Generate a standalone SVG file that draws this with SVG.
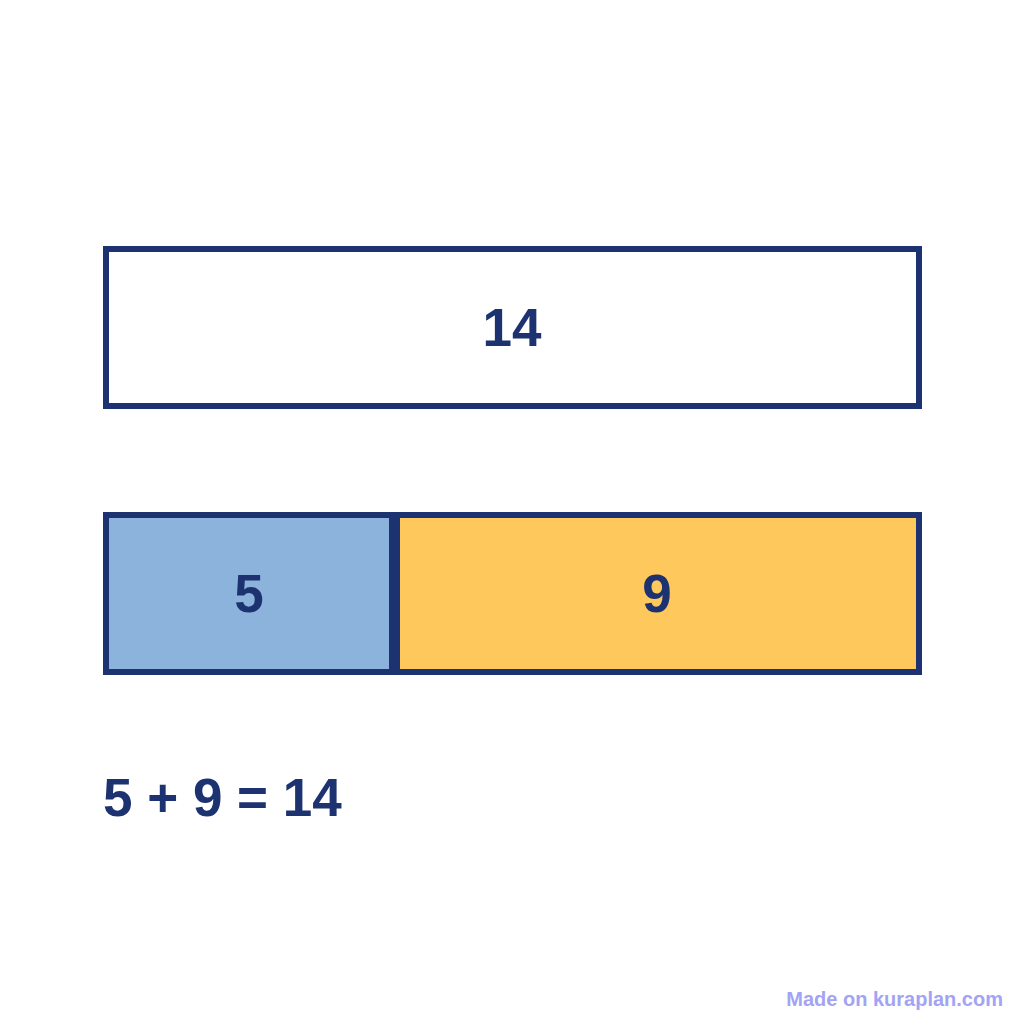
<svg xmlns="http://www.w3.org/2000/svg" width="1024" height="1024" viewBox="0 0 1024 1024">
<style>
.box{stroke:#1d3270;stroke-width:6}
.lbl{font-family:"Liberation Sans",Arial,sans-serif;font-weight:bold;font-size:53px;fill:#1d3270}
.mid{text-anchor:middle}
.wm{font-family:"Liberation Sans",Arial,sans-serif;font-weight:bold;font-size:20px;fill:#a3a3f5;text-anchor:end}
</style>
<rect width="1024" height="1024" fill="#ffffff"/>
<g id="total">
<rect class="box" x="106" y="249" width="813" height="157" fill="#ffffff"/>
<text class="lbl mid" x="512" y="346">14</text>
</g>
<g id="part5">
<rect class="box" x="106" y="515" width="286" height="157" fill="#8cb3dc"/>
<text class="lbl mid" x="249" y="612">5</text>
</g>
<g id="part9">
<rect class="box" x="397" y="515" width="522" height="157" fill="#fec85d"/>
<text class="lbl mid" x="657" y="612">9</text>
</g>
<g id="connectors"></g>
<g id="equation">
<text class="lbl" x="103" y="816">5 + 9 = 14</text>
</g>
<text class="wm" x="1003" y="1006">Made on kuraplan.com</text>
</svg>
